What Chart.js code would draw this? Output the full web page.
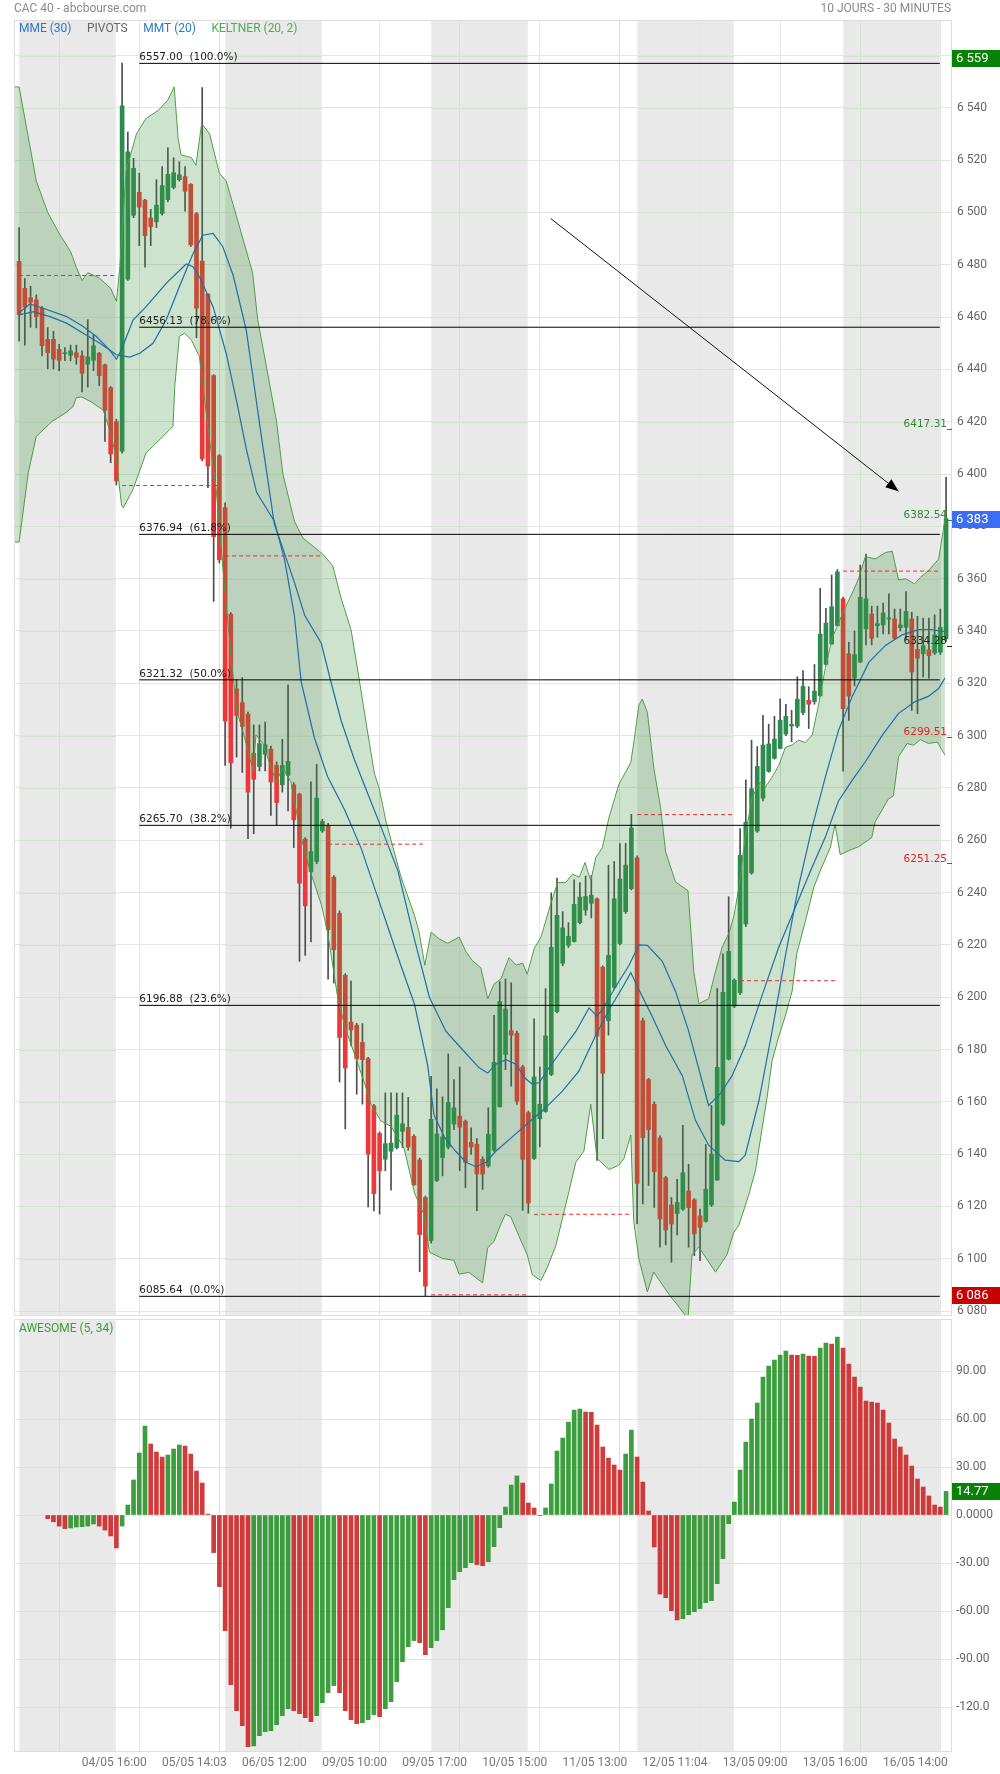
<!DOCTYPE html>
<html>
<head>
<meta charset="utf-8">
<script src="https://cdn.jsdelivr.net/npm/chart.js@4.4.1/dist/chart.umd.min.js"></script>
<style>
  body { margin: 0; background: #fff; }
  #wrap { position: relative; width: 1000px; height: 1774px; }
  canvas { position: absolute; left: 0; }
  #main { top: 0; }
  #osc { top: 1318px; }
</style>
</head>
<body>
<div id="wrap">
  <canvas id="main" width="1000" height="1318"></canvas>
  <canvas id="osc" width="1000" height="456"></canvas>
</div>
<script>
// CAC 40, 30 min candles, index 0 = 04/05 09:00 (18 candles a day)
var opens = [6481.3, 6471.0, 6467.4, 6466.6, 6463.4, 6451.5, 6451.5, 6447.7, 6446.0, 6445.4, 6446.4, 6445.2, 6442.0, 6443.5, 6446.2, 6441.8, 6433.0, 6420.0,
  6408.7, 6474.5, 6498.9, 6507.7, 6504.7, 6497.9, 6496.4, 6499.6, 6504.9, 6509.6, 6512.5, 6513.7, 6510.8, 6499.5, 6481.4, 6468.8, 6437.6, 6407.0,
  6387.2, 6346.4, 6317.9, 6312.6, 6308.2, 6293.3, 6288.2, 6292.9, 6294.8, 6288.6, 6281.2, 6284.8, 6281.2, 6277.6, 6260.4, 6247.9, 6251.9, 6263.6,
  6265.7, 6245.9, 6232.1, 6208.4, 6190.5, 6189.3, 6182.7, 6176.5, 6158.5, 6147.9, 6138.1, 6141.1, 6142.5, 6148.7, 6150.2, 6146.8, 6137.8, 6123.4,
  6107.0, 6129.9, 6138.7, 6142.7, 6151.5, 6154.5, 6152.6, 6144.5, 6143.8, 6138.0, 6135.5, 6141.5, 6158.1, 6178.1, 6187.2, 6186.2, 6173.3, 6155.9,
  6138.3, 6153.5, 6156.3, 6170.5, 6194.5, 6213.0, 6219.8, 6221.3, 6228.5, 6233.3, 6235.9, 6237.6, 6211.5, 6191.0, 6203.8, 6220.5, 6232.7, 6241.5,
  6253.3, 6191.0, 6168.5, 6159.0, 6146.2, 6131.0, 6120.6, 6117.3, 6119.0, 6125.9, 6122.5, 6116.4, 6114.3, 6120.6, 6130.1, 6151.5, 6176.3, 6196.6,
  6201.7, 6228.0, 6247.5, 6263.5, 6276.1, 6286.3, 6291.3, 6295.1, 6300.6, 6303.7, 6303.6, 6308.8, 6313.5, 6313.0, 6315.2, 6327.2, 6335.0, 6342.0,
  6352.3, 6331.3, 6322.0, 6328.1, 6340.8, 6346.5, 6342.0, 6342.3, 6344.6, 6344.6, 6341.3, 6341.4, 6344.6, 6333.0, 6331.3, 6332.8, 6331.6, 6331.9,
  6337.0]
var highs = [6494.2, 6474.7, 6471.8, 6468.5, 6464.0, 6456.0, 6454.6, 6449.6, 6448.3, 6449.3, 6449.3, 6447.1, 6459.0, 6453.4, 6446.5, 6442.0, 6433.5, 6421.0,
  6557.1, 6530.7, 6520.7, 6515.0, 6505.0, 6501.2, 6512.5, 6517.5, 6524.7, 6520.9, 6519.4, 6517.5, 6511.0, 6500.0, 6547.7, 6469.0, 6438.0, 6407.5,
  6389.0, 6347.0, 6321.5, 6322.2, 6309.0, 6304.1, 6304.1, 6305.2, 6296.0, 6290.0, 6298.6, 6319.4, 6282.0, 6278.0, 6261.0, 6282.3, 6289.0, 6268.0,
  6266.5, 6246.5, 6233.0, 6209.0, 6206.2, 6190.0, 6189.9, 6177.0, 6159.0, 6148.5, 6163.4, 6163.4, 6163.4, 6163.4, 6161.7, 6147.5, 6138.5, 6124.0,
  6169.7, 6165.0, 6161.9, 6178.3, 6168.5, 6173.3, 6153.0, 6150.1, 6145.9, 6139.0, 6157.7, 6193.1, 6205.9, 6206.9, 6205.5, 6187.0, 6174.0, 6156.5,
  6191.7, 6173.3, 6203.3, 6239.9, 6245.5, 6232.7, 6228.5, 6244.9, 6243.8, 6246.3, 6246.6, 6238.0, 6212.0, 6250.5, 6251.9, 6258.7, 6258.8, 6269.9,
  6254.0, 6192.0, 6169.0, 6160.0, 6147.0, 6131.5, 6123.4, 6130.4, 6151.0, 6136.1, 6123.0, 6119.0, 6143.7, 6158.6, 6203.3, 6216.6, 6238.4, 6207.0,
  6264.5, 6283.1, 6298.3, 6295.8, 6307.8, 6304.4, 6307.4, 6314.1, 6312.0, 6309.7, 6322.5, 6324.9, 6318.7, 6327.2, 6356.3, 6348.7, 6361.4, 6363.5,
  6353.0, 6335.7, 6340.0, 6365.2, 6369.4, 6349.5, 6349.5, 6350.7, 6354.2, 6348.4, 6348.4, 6355.1, 6347.2, 6345.6, 6344.9, 6344.9, 6346.2, 6348.4,
  6398.7]
var lows = [6450.8, 6449.3, 6456.1, 6455.9, 6445.2, 6440.2, 6440.2, 6439.5, 6443.3, 6443.3, 6442.0, 6431.4, 6433.2, 6439.5, 6433.8, 6412.5, 6404.3, 6395.8,
  6408.0, 6474.0, 6498.0, 6487.3, 6479.1, 6487.3, 6494.2, 6499.0, 6504.0, 6509.0, 6512.0, 6500.5, 6487.0, 6452.1, 6405.0, 6394.8, 6351.3, 6366.0,
  6288.6, 6264.6, 6291.8, 6285.9, 6260.6, 6262.5, 6286.5, 6286.5, 6269.5, 6265.7, 6278.4, 6271.2, 6257.2, 6213.7, 6216.0, 6221.1, 6251.0, 6263.0,
  6206.9, 6205.4, 6167.6, 6149.6, 6181.4, 6162.9, 6159.1, 6119.8, 6118.3, 6117.1, 6133.6, 6126.2, 6142.0, 6142.5, 6141.5, 6128.0, 6095.0, 6085.9,
  6106.0, 6129.5, 6131.7, 6142.0, 6149.4, 6133.7, 6127.2, 6139.9, 6118.4, 6126.5, 6135.0, 6141.0, 6158.0, 6172.3, 6166.0, 6159.0, 6118.5, 6117.4,
  6138.0, 6142.8, 6156.0, 6170.0, 6194.0, 6212.0, 6219.0, 6221.0, 6228.0, 6231.3, 6230.3, 6137.6, 6145.9, 6185.5, 6203.0, 6220.0, 6232.0, 6241.0,
  6113.3, 6121.0, 6128.0, 6119.6, 6104.4, 6105.3, 6098.7, 6109.1, 6118.5, 6104.4, 6101.2, 6099.3, 6114.0, 6120.0, 6130.0, 6151.0, 6176.0, 6196.0,
  6201.0, 6227.0, 6247.0, 6263.0, 6275.0, 6286.0, 6291.0, 6295.0, 6300.0, 6297.7, 6303.0, 6308.0, 6302.7, 6312.0, 6315.0, 6327.0, 6335.0, 6342.0,
  6286.4, 6305.8, 6319.0, 6328.0, 6334.7, 6334.7, 6337.6, 6338.9, 6338.9, 6337.0, 6340.0, 6337.0, 6309.6, 6308.4, 6322.4, 6322.0, 6331.0, 6331.0,
  6336.0]
var closes = [6460.9, 6463.8, 6465.7, 6460.2, 6449.1, 6446.4, 6443.9, 6443.5, 6446.4, 6447.1, 6444.6, 6438.5, 6444.8, 6449.0, 6437.6, 6424.4, 6407.7, 6397.4,
  6540.8, 6523.2, 6516.9, 6502.0, 6491.1, 6494.5, 6502.8, 6510.3, 6514.6, 6515.2, 6514.4, 6508.1, 6487.6, 6463.4, 6405.8, 6403.0, 6376.1, 6367.2,
  6305.6, 6289.7, 6307.7, 6303.5, 6278.4, 6283.3, 6296.9, 6296.5, 6282.3, 6274.4, 6288.6, 6290.1, 6267.8, 6243.6, 6234.9, 6255.7, 6276.1, 6267.2,
  6225.8, 6218.1, 6184.6, 6172.9, 6187.5, 6176.5, 6176.1, 6140.0, 6124.9, 6133.6, 6144.0, 6144.2, 6154.9, 6151.6, 6142.7, 6128.3, 6109.2, 6089.5,
  6153.3, 6147.7, 6146.6, 6159.8, 6157.7, 6150.3, 6136.9, 6142.7, 6132.4, 6132.4, 6147.6, 6175.1, 6198.4, 6195.5, 6185.5, 6160.2, 6138.0, 6121.3,
  6169.5, 6159.1, 6185.2, 6219.1, 6231.3, 6226.5, 6223.3, 6235.5, 6238.3, 6238.5, 6239.0, 6185.1, 6170.9, 6216.0, 6237.6, 6245.2, 6250.5, 6264.7,
  6128.8, 6146.3, 6149.4, 6133.3, 6115.2, 6111.0, 6113.3, 6121.5, 6132.9, 6119.6, 6109.5, 6112.0, 6126.6, 6140.0, 6173.2, 6201.9, 6217.5, 6206.5,
  6254.2, 6266.9, 6279.7, 6288.2, 6296.4, 6296.8, 6298.7, 6305.9, 6307.4, 6304.3, 6313.9, 6318.8, 6312.0, 6317.0, 6338.8, 6343.0, 6349.3, 6362.6,
  6310.3, 6315.1, 6331.0, 6352.9, 6352.3, 6337.2, 6342.8, 6346.9, 6344.8, 6337.2, 6342.3, 6347.5, 6324.3, 6329.6, 6334.4, 6330.6, 6338.5, 6341.4,
  6383.0]

// keltner (20, 2) envelope, [candle index, value]
var keltnerUpper = [[-0.72, 6548], [0, 6548], [1, 6536], [3, 6512], [5, 6500], [7, 6492], [9, 6485], [10, 6479], [11, 6474], [12, 6477], [14, 6475],
  [16, 6471], [17, 6466], [17.6, 6479], [18.7, 6516], [20.5, 6530], [22.2, 6536], [24.3, 6539], [26, 6543], [27.1, 6548], [27.8, 6528], [28.3, 6522],
  [30.1, 6521], [30.9, 6518], [31.9, 6534], [33.3, 6530], [35, 6515], [36.2, 6512], [37.4, 6503], [40.8, 6477], [41.7, 6459], [45, 6420], [46.1, 6400],
  [48.1, 6382], [49.6, 6375.5], [52.5, 6370.4], [53.1, 6369.3], [54.8, 6365], [56.3, 6352.3], [58, 6340.6], [59.2, 6324.7], [60.9, 6301.4],
  [62.1, 6285.4], [62.9, 6280.1], [64.1, 6267.4], [66.7, 6246.2], [69.1, 6231.3], [69.9, 6224.9], [70.9, 6212.2], [72, 6224.9], [73.4, 6222.3],
  [74.9, 6220.6], [76.9, 6223], [78.1, 6217.4], [79.2, 6214], [80.7, 6211.2], [81.9, 6199.4], [83, 6205], [84.2, 6207], [85.6, 6215.1], [86.9, 6212.3],
  [88, 6213], [88.8, 6208.8], [90, 6218.5], [91.2, 6223], [92.6, 6233.4], [94.1, 6243.8], [95.5, 6243.8], [96.7, 6247], [97.9, 6245.9], [98.9, 6251.5],
  [99.9, 6244.5], [100.8, 6253.5], [101.9, 6257], [103.1, 6268.8], [104.8, 6281.3], [106.9, 6289.7], [107.6, 6300], [108.3, 6311.6], [108.9, 6314],
  [109.8, 6308.8], [110.9, 6287.9], [112.1, 6272.6], [113, 6255.5], [114.7, 6244.1], [116.9, 6240.7], [117.9, 6209.9], [118.8, 6197.5], [120.5, 6199.4],
  [121.7, 6209.9], [122.9, 6219.4], [124, 6224.2], [124.9, 6230.8], [125.8, 6242.2], [126.9, 6261.2], [128.1, 6276.4], [129.5, 6282.2], [130.4, 6280.3],
  [131.6, 6284.1], [132.8, 6288.8], [133.9, 6295.5], [135.1, 6296.4], [136.2, 6298.3], [137.4, 6297.4], [138.6, 6300.2], [139.7, 6311.6], [140.9, 6325.9],
  [142.1, 6337.3], [143.2, 6343], [144.4, 6349], [145.6, 6354.5], [146.7, 6360], [147.9, 6368.5], [149.6, 6367.5], [151.4, 6370], [152.6, 6370.5],
  [153.7, 6359.5], [154.9, 6360], [156.5, 6358], [157.5, 6360.5], [158.9, 6363], [160.7, 6367.5], [161.8, 6382.5]]
var keltnerLower = [[-0.72, 6374], [0, 6374], [1.6, 6400.5], [3, 6414.4], [5.7, 6420], [8, 6423.2], [9.4, 6425.7], [10, 6429.2], [10.9, 6429.5],
  [12.6, 6427.6], [14.7, 6424.4], [16.1, 6415], [17, 6405.6], [17.9, 6388], [18.2, 6387.1], [19.9, 6394.1], [22.2, 6408.1], [24.6, 6413.2], [26.9, 6418.3],
  [27.2, 6433.5], [28, 6452.6], [28.9, 6453.8], [30.1, 6451.3], [31.5, 6444.9], [33, 6418], [34.5, 6392.7], [35.9, 6356.6], [37.1, 6329], [38, 6309.9],
  [39.4, 6299.2], [40.9, 6286.5], [41.4, 6300.3], [42.6, 6297], [44.9, 6282.3], [46.1, 6287.6], [47.5, 6282.3], [49.3, 6261], [50.7, 6249.3],
  [52.8, 6235.5], [53.9, 6224.9], [55.7, 6199.5], [56.9, 6188.9], [58.6, 6178.2], [60.3, 6167.6], [61.5, 6159.1], [63.2, 6152.7], [65, 6150.6],
  [67.3, 6142.1], [69.1, 6125.1], [70.8, 6116.6], [71.7, 6102.5], [74, 6100.1], [76, 6099.4], [76.9, 6094.1], [78.6, 6094.8], [81, 6090.8], [81.9, 6104.2],
  [83, 6106.6], [84.2, 6113.3], [85, 6117], [85.9, 6116.1], [87.4, 6108.4], [88.8, 6101.5], [89.7, 6093.8], [91.2, 6091.7], [92.3, 6096.6], [93.8, 6105],
  [96.1, 6125.8], [97.3, 6136.9], [98.7, 6141.1], [99.9, 6159.1], [101, 6138.3], [103.1, 6134.1], [104.8, 6135.8], [105.7, 6138.3], [106.9, 6147.3],
  [107.4, 6114.7], [108.3, 6100], [109.8, 6087.3], [110.9, 6094.9], [111.8, 6092], [113.6, 6086.3], [115.3, 6081.6], [116.9, 6077], [117.6, 6101.5],
  [118.8, 6104.4], [121.7, 6094.9], [123.7, 6101.5], [124.9, 6110.1], [125.8, 6112.9], [127.5, 6124.3], [128.7, 6133.9], [129.8, 6149.1], [130.7, 6161.4],
  [131.6, 6175.7], [132.8, 6185.2], [133.9, 6192.8], [135.1, 6202.3], [135.9, 6216.6], [137.4, 6228.9], [138.9, 6242.2], [140.3, 6249.8], [141.8, 6257.4],
  [142.6, 6266], [143.5, 6254.5], [145.5, 6256.5], [146.7, 6257.5], [149, 6261], [149.6, 6267], [151.9, 6275.7], [152.8, 6277], [153.7, 6292],
  [155.2, 6297], [156.3, 6296.3], [157.5, 6298.5], [158.9, 6297], [160.5, 6297.5], [161.8, 6292.5]]

// the two moving averages (MME 30 / MMT 20)
var maFast = [[0, 6461.7], [1.9, 6465], [4.2, 6463.4], [8.3, 6460.2], [11.2, 6456.4], [13.5, 6452.6], [15.8, 6447.5], [17, 6443.9], [17.9, 6447.5],
  [19.9, 6458.9], [22.2, 6464], [25.7, 6472.9], [29.2, 6480.3], [30.4, 6479.3], [31.5, 6475.4], [33.9, 6464], [36.2, 6446], [38, 6428], [39.7, 6409.6],
  [41.5, 6393], [44.6, 6382], [46.4, 6367.2], [48.1, 6346], [49.3, 6320.5], [51.6, 6299.2], [53.9, 6284.4], [56.9, 6271.6], [59.8, 6256.8],
  [62.1, 6241.9], [64.4, 6227.1], [66.7, 6212.2], [69.1, 6197.3], [71.4, 6174], [72.5, 6155], [74.3, 6146.6], [76.3, 6141.1], [78.1, 6136.9],
  [79.8, 6135.2], [81.6, 6136.9], [83.3, 6141.1], [86.2, 6146.6], [89.1, 6152.2], [92, 6157.7], [94.9, 6164], [97.8, 6171.6], [100.8, 6185.5],
  [103.1, 6195.2], [105.4, 6203.5], [106.9, 6209.4], [108.3, 6202.9], [110.6, 6192.8], [113, 6181.4], [115.9, 6170], [118.2, 6152.9], [120.5, 6143.4],
  [123.4, 6137.7], [125.8, 6137.1], [126.9, 6139.6], [129.3, 6160.5], [131.6, 6187.1], [133.9, 6215.6], [136.2, 6242.2], [138.6, 6265], [140.9, 6284.1],
  [143.2, 6302], [145.6, 6315], [148.5, 6328], [151.4, 6334.5], [154.3, 6338.5], [157.2, 6340.5], [159.5, 6340.5], [161.8, 6339.7]]
var maSlow = [[0, 6460.8], [2.5, 6462.1], [5.4, 6460.2], [8.3, 6457.7], [11.2, 6453.8], [14.1, 6450], [17, 6445.6], [19.3, 6444.7], [21.1, 6446.2],
  [23.4, 6450], [25.7, 6458.9], [28, 6471.6], [30.4, 6484.3], [32.1, 6491.3], [33.9, 6492], [35.6, 6486.9], [37.4, 6476], [39.7, 6455], [42.3, 6415],
  [44.6, 6381], [48.1, 6358.7], [49.9, 6346], [52.8, 6335.3], [54.5, 6320.5], [56.3, 6305.6], [58.6, 6290.8], [60.9, 6278], [63.2, 6265.3],
  [66.2, 6248.3], [69.1, 6222], [71.7, 6200], [74.6, 6186.9], [77.5, 6179.9], [80.4, 6173], [81.9, 6171], [83.3, 6174.4], [85.1, 6176.1], [86.8, 6174.4],
  [88.5, 6168.9], [89.7, 6166.7], [90.9, 6167.4], [92.6, 6173], [94.9, 6179.9], [97.3, 6186.9], [99.6, 6195.9], [101, 6192.7], [101.9, 6195.2],
  [104.2, 6203.8], [106.6, 6212.2], [108.3, 6220], [109.8, 6219.8], [112.4, 6213.7], [114.7, 6202.3], [117, 6187.1], [120.5, 6158.6], [122.5, 6163],
  [124.6, 6170], [126.9, 6181.4], [129.8, 6200.4], [132.8, 6219.4], [135.7, 6234.6], [138.6, 6249.8], [140.9, 6261.2], [143.2, 6275], [145.6, 6283],
  [147.9, 6290], [150.8, 6300], [153.7, 6308.5], [156.6, 6313], [158.9, 6315], [160.7, 6318], [161.8, 6322]]

// awesome oscillator (5, 34), first bar on candle 5
var aoStart = 5
var aoValues = [-2.3, -4.2, -6.9, -8.5, -8.1, -7.5, -7.3, -6.9, -5.6, -6.9, -9.4, -13.1, -20.6, -6.9, 6.25, 21.9, 38.75, 55.6, 44.4, 39.4,
  36.25, 37.5, 41.25, 43.75, 43.1, 38.1, 27.5, 20.0, 0.6, -23.5, -44.8, -72.3, -106, -122.3, -131.7, -144.8, -144.3, -137.9, -135.4, -134.8,
  -131.0, -125.4, -121.0, -122.3, -124.2, -126.7, -129.2, -125.4, -117.3, -111.0, -106.7, -111.0, -122.3, -127.9, -130.4, -129.8, -127.9, -124.8, -126.0, -121.0,
  -116.7, -104.2, -91.7, -82.3, -78.5, -79.8, -87.3, -82.9, -78.5, -71.7, -57.9, -40.4, -35.4, -32.9, -29.8, -31.0, -31.7, -29.2, -19.8, -7.9,
  5.0, 18.75, 24.4, 20.0, 7.5, 4.4, -0.4, 4.4, 19.4, 40.0, 48.1, 58.1, 65.6, 66.25, 64.4, 64.2, 56.25, 42.5, 35.6, 31.25,
  28.1, 38.1, 53.1, 36.25, 20.6, 2.5, -20.0, -49.4, -51.7, -59.8, -65.6, -64.8, -62.3, -60.4, -58.5, -54.8, -53.5, -42.9, -27.3, -5.4,
  8.1, 28.1, 45.6, 60.0, 70.0, 86.25, 93.1, 96.9, 100.0, 102.5, 100.0, 99.8, 100.6, 99.4, 99.2, 104.4, 107.5, 106.9, 111.25, 104.4,
  94.4, 86.25, 80.0, 71.25, 70.6, 70.0, 65.6, 57.5, 47.5, 42.5, 37.5, 30.6, 22.5, 17.5, 11.9, 6.25, 5.0, 14.77]

// previous close of each day (dashed), fibonacci retracement, pivot levels
var dayStarts = [0, 18, 36, 54, 72, 90, 108, 126, 144]
var prevCloses = [6475.9, 6395.6, 6368.7, 6258.5, 6086.2, 6117.0, 6269.8, 6206.3, 6362.9]
var fibLevels = [6557.00, 6456.13, 6376.94, 6321.32, 6265.70, 6196.88, 6085.64]
var fibPct = ['100.0%', '78.6%', '61.8%', '50.0%', '38.2%', '23.6%', '0.0%']
var pivotLevels = [6417.31, 6382.54, 6334.28, 6299.51, 6251.25]
var pivotColors = ['#2e8b2e', '#2e8b2e', '#222222', '#e02424', '#e02424']
var arrowFrom = [92.9, 6497.7]
var arrowTo = [153.7, 6393.4]
var lastPrice = 6383, periodHigh = 6559, periodLow = 6086

// axes
var greyDays = [0, 36, 72, 108, 144]
var timeTicks = [14, 28, 42, 56, 70, 84, 98, 112, 126, 140, 154]
var timeLabels = ['04/05 16:00', '05/05 14:03', '06/05 12:00', '09/05 10:00', '09/05 17:00', '10/05 15:00',
  '11/05 13:00', '12/05 11:04', '13/05 09:00', '13/05 16:00', '16/05 14:00']
var priceTicks = [6080, 6100, 6120, 6140, 6160, 6180, 6200, 6220, 6240, 6260, 6280, 6300, 6320, 6340, 6360,
  6380, 6400, 6420, 6440, 6460, 6480, 6500, 6520, 6540, 6560]
var aoTicks = [-120, -90, -60, -30, 0, 30, 60, 90]

var xMin = -0.72, xMax = 162.86
var bandLen = 16.9
var gridGrey = '#e5e5e5', gridGreen = '#d3e5d0'

Chart.defaults.font.family = 'Roboto'
Chart.defaults.color = '#666'

function pts(pairs) {
  return pairs.map(function (p) { return {x: p[0], y: p[1]} })
}

function priceFmt(v) {
  return String(v).replace(/\B(?=(\d{3})+(?!\d))/g, ' ')
}

function setTicks(list) {
  return function (scale) { scale.ticks = list.map(function (v) { return {value: v} }) }
}

function inGreyDay(v) {
  return greyDays.some(function (s) { return v > s && v < s + bandLen })
}

// vertical grid lines look green inside the grey day bands
function xGridColor(ctx) {
  return ctx.tick && inGreyDay(ctx.tick.value) ? gridGreen : gridGrey
}

// keep the panels at a fixed size: no extra room for the edge labels
function fixWidth(w) {
  return function (s) { s.width = w; s.paddingTop = 0; s.paddingBottom = 0 }
}
function fixHeight(h) {
  return function (s) { s.height = h; s.paddingLeft = 0; s.paddingRight = 0 }
}

function priceBox(ctx, yPx, text, color) {
  ctx.fillStyle = color
  ctx.fillRect(952, Math.round(yPx) - 8, 48, 17)
  ctx.fillStyle = '#fff'
  ctx.font = '13px Roboto'
  ctx.textAlign = 'left'
  ctx.textBaseline = 'middle'
  ctx.fillText(text, 956, Math.round(yPx) + 1)
}

// grey trading-day bands and panel frame, under the grid
var backdrop = {
  id: 'backdrop',
  beforeDraw: function (chart) {
    var ctx = chart.ctx, a = chart.chartArea, x = chart.scales.x
    ctx.save()
    ctx.fillStyle = '#e9e9e9'
    greyDays.forEach(function (s) {
      var x0 = x.getPixelForValue(s + 0.03), x1 = x.getPixelForValue(s + bandLen)
      ctx.fillRect(x0, a.top, x1 - x0, a.bottom - a.top)
    })
    ctx.strokeStyle = '#dedede'
    ctx.lineWidth = 1
    ctx.strokeRect(a.left - 0.5, a.top - 0.5, a.right - a.left + 1, a.bottom - a.top + 1)
    ctx.restore()
  },
  // horizontal grid lines turn green where they cross a grey band
  beforeDatasetsDraw: function (chart) {
    var ctx = chart.ctx, x = chart.scales.x, y = chart.scales.y
    ctx.save()
    ctx.strokeStyle = gridGreen
    ctx.lineWidth = 1
    ctx.beginPath()
    y.ticks.forEach(function (t) {
      var py = Math.round(y.getPixelForValue(t.value)) + 0.5
      greyDays.forEach(function (s) {
        ctx.moveTo(x.getPixelForValue(s + 0.03), py)
        ctx.lineTo(x.getPixelForValue(s + bandLen), py)
      })
    })
    ctx.stroke()
    ctx.restore()
  }
}

var mainOverlay = {
  id: 'mainOverlay',
  afterDraw: function (chart) {
    var ctx = chart.ctx, x = chart.scales.x, y = chart.scales.y
    ctx.save()

    ctx.font = '12px Roboto'
    ctx.textBaseline = 'middle'
    ctx.fillStyle = '#8a8a8a'
    ctx.textAlign = 'left'
    ctx.fillText('CAC 40 - abcbourse.com', 14, 9)
    ctx.textAlign = 'right'
    ctx.fillText('10 JOURS - 30 MINUTES', 951, 9)

    var legend = ['MME (30)', 'PIVOTS', 'MMT (20)', 'KELTNER (20, 2)']
    var legendColors = ['#2a78c8', '#666666', '#2a78c8', '#4caf50']
    var lx = 19
    ctx.textAlign = 'left'
    legend.forEach(function (t, k) {
      ctx.fillStyle = legendColors[k]
      ctx.fillText(t, lx, 29)
      lx += ctx.measureText(t).width + 15.5
    })

    // fibonacci labels
    ctx.font = '10.5px "DejaVu Sans"'
    ctx.fillStyle = '#222'
    ctx.textBaseline = 'alphabetic'
    fibLevels.forEach(function (lv, k) {
      ctx.fillText(lv.toFixed(2) + '  (' + fibPct[k] + ')', x.getPixelForValue(21), y.getPixelForValue(lv) - 3)
    })

    // pivot levels on the right edge
    ctx.textAlign = 'right'
    pivotLevels.forEach(function (lv, k) {
      var py = y.getPixelForValue(lv)
      ctx.fillStyle = pivotColors[k]
      ctx.fillText(lv.toFixed(2), 947, py - 1.5)
      ctx.fillRect(947, Math.round(py), 5, 1)
    })

    // arrow head
    var ax0 = x.getPixelForValue(arrowFrom[0]), ay0 = y.getPixelForValue(arrowFrom[1])
    var ax1 = x.getPixelForValue(arrowTo[0]), ay1 = y.getPixelForValue(arrowTo[1])
    var ang = Math.atan2(ay1 - ay0, ax1 - ax0)
    ctx.fillStyle = '#000'
    ctx.beginPath()
    ctx.moveTo(ax1, ay1)
    ctx.lineTo(ax1 - 13 * Math.cos(ang) + 5 * Math.sin(ang), ay1 - 13 * Math.sin(ang) - 5 * Math.cos(ang))
    ctx.lineTo(ax1 - 13 * Math.cos(ang) - 5 * Math.sin(ang), ay1 - 13 * Math.sin(ang) + 5 * Math.cos(ang))
    ctx.closePath()
    ctx.fill()

    priceBox(ctx, y.getPixelForValue(periodHigh), priceFmt(periodHigh), '#078207')
    priceBox(ctx, y.getPixelForValue(lastPrice), priceFmt(lastPrice), '#3b6ef5')
    priceBox(ctx, y.getPixelForValue(periodLow), priceFmt(periodLow), '#c80000')
    ctx.restore()
  }
}

var oscOverlay = {
  id: 'oscOverlay',
  afterDraw: function (chart) {
    var ctx = chart.ctx, y = chart.scales.y
    ctx.save()
    ctx.font = '12px Roboto'
    ctx.fillStyle = '#3c9c3c'
    ctx.textAlign = 'left'
    ctx.textBaseline = 'middle'
    ctx.fillText('AWESOME (5, 34)', 19, 11)
    var last = aoValues[aoValues.length - 1]
    priceBox(ctx, y.getPixelForValue(last), last.toFixed(2), '#078207')
    ctx.restore()
  }
}

// ---- main price panel ----
var wickData = opens.map(function (o, i) { return {x: i, y: [lows[i], highs[i]]} })
var bodyData = opens.map(function (o, i) { return {x: i, y: [o, closes[i]]} })
var bodyColors = opens.map(function (o, i) { return closes[i] >= o ? '#2c8c50' : '#ec3838' })

var datasets = [
  {type: 'bar', data: wickData, backgroundColor: '#4e4e4e', barThickness: 1, grouped: false, order: 20},
  {type: 'bar', data: bodyData, backgroundColor: bodyColors, barThickness: 4, minBarLength: 1, grouped: false, order: 19},
  {type: 'line', data: pts(keltnerUpper), borderColor: '#4f9f45', borderWidth: 1, pointRadius: 0, fill: '+1',
    backgroundColor: 'rgba(60,145,55,0.25)', order: 10},
  {type: 'line', data: pts(keltnerLower), borderColor: '#4f9f45', borderWidth: 1, pointRadius: 0, fill: false, order: 11},
  {type: 'line', data: pts(maFast), borderColor: '#1d6fa8', borderWidth: 1.2, pointRadius: 0, order: 8},
  {type: 'line', data: pts(maSlow), borderColor: '#1d6fa8', borderWidth: 1.2, pointRadius: 0, order: 8}
]
prevCloses.forEach(function (v, k) {
  datasets.push({type: 'line', data: [{x: dayStarts[k], y: v}, {x: dayStarts[k] + 17, y: v}],
    borderColor: '#e52e2e', borderWidth: 1, borderDash: [4, 3], pointRadius: 0, order: 6})
})
fibLevels.forEach(function (v) {
  datasets.push({type: 'line', data: [{x: 21, y: v}, {x: 160.9, y: v}],
    borderColor: '#000', borderWidth: 1, pointRadius: 0, order: 5})
})
datasets.push({type: 'line', data: [{x: arrowFrom[0], y: arrowFrom[1]}, {x: arrowTo[0], y: arrowTo[1]}],
  borderColor: '#111', borderWidth: 1, pointRadius: 0, order: 4})

var mainChart = new Chart(document.getElementById('main'), {
  type: 'bar',
  data: {datasets: datasets},
  options: {
    responsive: false,
    animation: false,
    devicePixelRatio: 1,
    layout: {padding: {left: 15, top: 21, right: 0, bottom: 0}},
    plugins: {legend: {display: false}, tooltip: {enabled: false}, filler: {drawTime: 'beforeDatasetDraw'}},
    scales: {
      x: {
        type: 'linear', min: xMin, max: xMax, offset: false,
        afterBuildTicks: setTicks(timeTicks),
        afterFit: fixHeight(3),
        ticks: {display: false},
        grid: {color: xGridColor, drawTicks: false},
        border: {display: false}
      },
      y: {
        position: 'right', min: 6078.5, max: 6573.2,
        afterBuildTicks: setTicks(priceTicks),
        afterFit: fixWidth(49),
        ticks: {padding: 6, color: '#666', font: {size: 12}, callback: function (v) { return priceFmt(v) }},
        grid: {color: gridGrey, drawTicks: false},
        border: {color: '#dcdcdc'}
      }
    }
  },
  plugins: [backdrop, mainOverlay]
})

// ---- awesome oscillator panel ----
var aoData = aoValues.map(function (v, k) { return {x: aoStart + k, y: v} })
var aoColors = aoValues.map(function (v, k) {
  return k > 0 && v > aoValues[k - 1] ? 'rgba(34,145,34,0.88)' : 'rgba(204,32,32,0.88)'
})

var oscChart = new Chart(document.getElementById('osc'), {
  type: 'bar',
  data: {datasets: [{data: aoData, backgroundColor: aoColors, barThickness: 4, grouped: false}]},
  options: {
    responsive: false,
    animation: false,
    devicePixelRatio: 1,
    layout: {padding: {left: 15, top: 2, right: 0, bottom: 0}},
    plugins: {legend: {display: false}, tooltip: {enabled: false}},
    scales: {
      x: {
        type: 'linear', min: xMin, max: xMax, offset: false,
        afterBuildTicks: setTicks(timeTicks),
        afterFit: fixHeight(23),
        ticks: {
          padding: 5, color: '#777', font: {size: 12}, labelOffset: 15, maxRotation: 0, autoSkip: false,
          callback: function (v) { var k = timeTicks.indexOf(v); return k < 0 ? '' : timeLabels[k] }
        },
        grid: {color: xGridColor, drawTicks: false},
        border: {display: false}
      },
      y: {
        position: 'right', min: -147.5, max: 121.9,
        afterBuildTicks: setTicks(aoTicks),
        afterFit: fixWidth(49),
        ticks: {padding: 5, color: '#666', font: {size: 12}, callback: function (v) { return v === 0 ? '0.0000' : v.toPrecision(4) }},
        grid: {color: gridGrey, drawTicks: false},
        border: {color: '#dcdcdc'}
      }
    }
  },
  plugins: [backdrop, oscOverlay]
})
</script>
</body>
</html>
